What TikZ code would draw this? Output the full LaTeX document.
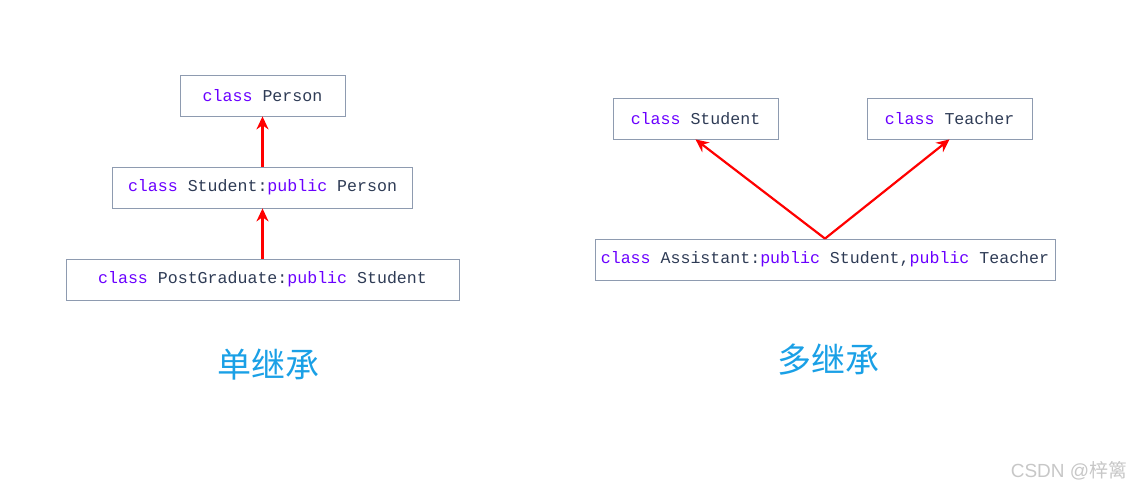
\documentclass[tikz,border=0pt]{standalone}
\usepackage{fontspec}
\setmonofont{Liberation Mono}
\setsansfont{Liberation Sans}
\newfontfamily\cjkfont{Noto Sans CJK SC}
\usepackage{tikz}
\usetikzlibrary{arrows.meta, positioning}
\usepackage{xcolor}
\definecolor{kwcolor}{HTML}{6A00FF}
\definecolor{txtcolor}{HTML}{2E3B55}
\definecolor{boxline}{HTML}{8E9BB0}
\definecolor{titlecolor}{HTML}{1AA0E6}
\newcommand{\kw}[1]{\textcolor{kwcolor}{#1}}

\begin{document}
\begin{tikzpicture}[x=1pt,y=-1pt,node distance=92pt,on grid]
    \tikzstyle{cls}=[draw=boxline,line width=0.8pt,minimum height=41pt,
        inner sep=0pt,text=txtcolor,font=\fontsize{16.6}{18}\selectfont\ttfamily]
    \tikzstyle{title}=[text=titlecolor,font=\fontsize{34}{38}\selectfont\cjkfont]
    \tikzstyle{inherit}=[-{Stealth[length=13pt,width=12pt]},red,line width=2.2pt]

    \useasboundingbox (0,0) rectangle (1136,492);

    % single inheritance
    \node[cls,minimum width=393pt] (pg) at (262.5,279.5) {\kw{class} PostGraduate:\kw{public} Student};
    \node[cls,minimum width=300pt,above of=pg] (stu) {\kw{class} Student:\kw{public} Person};
    \node[cls,minimum width=165pt,above of=stu] (per) {\kw{class} Person};
    \node[title] (single) at (268,365) {单继承};

    % multiple inheritance
    \node[cls,minimum width=460pt] (asst) at (825,259.5) {\kw{class} Assistant:\kw{public} Student,\kw{public} Teacher};
    \node[cls,minimum width=165pt] (stu2) at (695.5,118.5) {\kw{class} Student};
    \node[cls,minimum width=165pt] (tea) at (949.5,118.5) {\kw{class} Teacher};
    \node[title] (multi) at (828,360) {多继承};

    \path[inherit]
    (pg) edge (stu)
    (stu) edge (per)
    (asst.north) edge (stu2.south)
    (asst.north) edge (tea.south)
    ;

    \node[text=black!22,font=\fontsize{19}{22}\selectfont\sffamily] (mark) at (1069,471) {CSDN @\cjkfont 梓篱};
\end{tikzpicture}
\end{document}
